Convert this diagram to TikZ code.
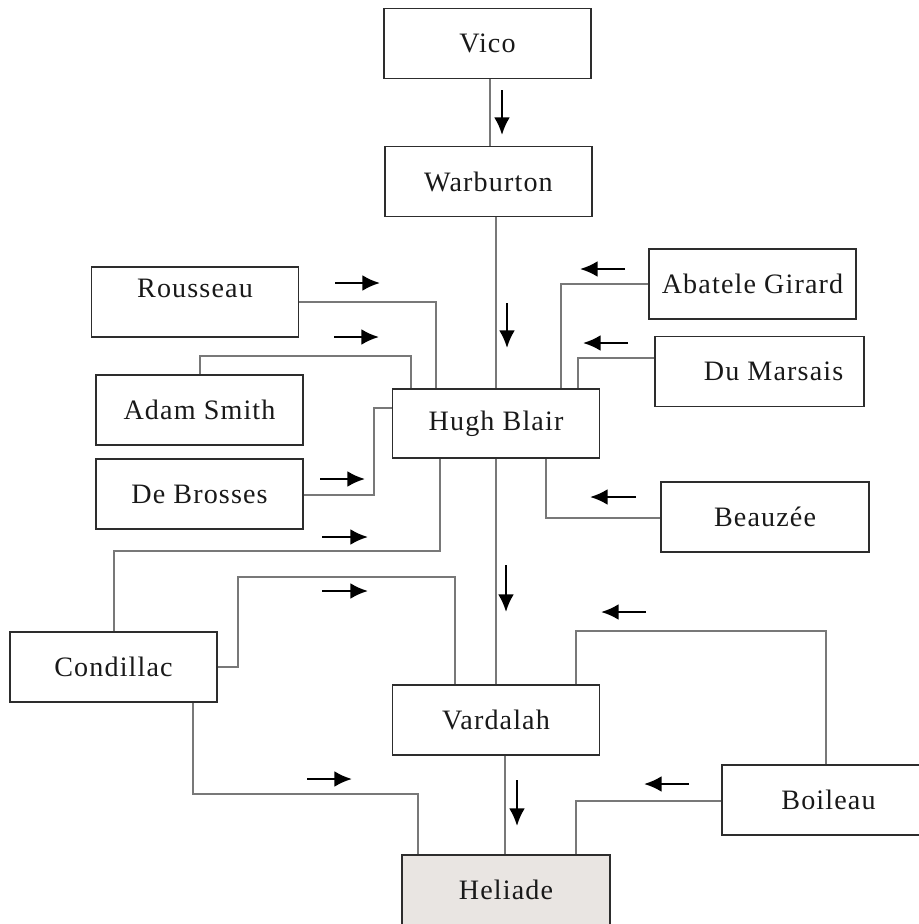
\documentclass[tikz,border=0pt]{standalone}
\usepackage{fontspec}
\setmainfont{Liberation Serif}[LetterSpace=4]
\usetikzlibrary{arrows.meta}

\definecolor{linkgray}{RGB}{120,120,120}
\definecolor{boxgray}{RGB}{45,45,45}
\definecolor{heliadefill}{RGB}{233,229,226}

\tikzset{
  box/.style={draw=boxgray,line width=0.9pt,inner sep=0pt,minimum width=4.14cm,minimum height=1.4cm,
    font=\fontsize{16}{18}\selectfont,text=black!90},
  link/.style={draw=linkgray,line width=0.8pt},
  flow/.style={line width=1.4pt,-{Latex[length=10pt,width=9pt]}}
}

\begin{document}
\begin{tikzpicture}[x=0.02cm,y=-0.02cm]
    \useasboundingbox (0,0) rectangle (919,924);
    \clip (0,0) rectangle (919,924);

    \node[box] at (487.5, 43.5) (vico) {Vico};
    \node[box] at (488.5, 181.5) (warburton) {Warburton};
    \node[box,text depth=16pt] at (195, 302) (rousseau) {Rousseau};
    \node[box] at (752.5, 284) (girard) {Abatele Girard};
    \node[box,minimum width=4.18cm] at (759.5, 371.5) (dumarsais) {\hspace{16pt}Du Marsais};
    \node[box] at (199.5, 410) (adamsmith) {Adam Smith};
    \node[box,minimum height=1.38cm] at (496, 423.5) (blair) {Hugh Blair};
    \node[box] at (199.5, 494) (debrosses) {De Brosses};
    \node[box,minimum width=4.16cm] at (765, 517) (beauzee) {Beauzée};
    \node[box] at (113.5, 667) (condillac) {Condillac\hspace{10pt}};
    \node[box] at (496, 720) (vardalah) {Vardalah};
    \node[box,minimum width=4.26cm] at (828.5, 800) (boileau) {Boileau};
    \node[box,fill=heliadefill,minimum width=4.16cm] at (506, 890) (heliade) {Heliade};

    % main line
    \draw[link] (vico.south -| 490,0) -- (warburton.north -| 490,0);
    \draw[link] (warburton.south -| 496,0) -- (blair.north -| 496,0);
    \draw[link] (blair.south -| 496,0) -- (vardalah.north -| 496,0);
    \draw[link] (vardalah.south -| 505,0) -- (heliade.north -| 505,0);

    % into Hugh Blair
    \draw[link] (rousseau.east |- 0,302) -| (blair.north -| 436,0);
    \draw[link] (adamsmith.north -| 200,0) -- (200,356) -| (blair.north -| 411,0);
    \draw[link] (debrosses.east |- 0,495) -- (374,495) |- (blair.west |- 0,408);
    \draw[link] (condillac.north -| 114,0) |- (440,551) -- (blair.south -| 440,0);
    \draw[link] (girard.west |- 0,284) -| (blair.north -| 561,0);
    \draw[link] (dumarsais.west |- 0,358) -| (blair.north -| 578,0);
    \draw[link] (beauzee.west |- 0,518) -| (blair.south -| 546,0);

    % into Vardalah and Heliade
    \draw[link] (condillac.east |- 0,667) -- (238,667) |- (455,577) -- (vardalah.north -| 455,0);
    \draw[link] (boileau.north -| 826,0) |- (576,631) -- (vardalah.north -| 576,0);
    \draw[link] (condillac.south -| 193,0) |- (418,794) -- (heliade.north -| 418,0);
    \draw[link] (boileau.west |- 0,801) -| (heliade.north -| 576,0);

    % arrows
    \draw[flow] (502,90) -- (502,135);
    \draw[flow] (507,303) -- (507,348);
    \draw[flow] (506,565) -- (506,612);
    \draw[flow] (517,780) -- (517,826);
    \draw[flow] (335,283) -- (380,283);
    \draw[flow] (334,337) -- (379,337);
    \draw[flow] (320,479) -- (365,479);
    \draw[flow] (322,537) -- (368,537);
    \draw[flow] (322,591) -- (368,591);
    \draw[flow] (307,779) -- (352,779);
    \draw[flow] (625,269) -- (580,269);
    \draw[flow] (628,343) -- (583,343);
    \draw[flow] (636,497) -- (590,497);
    \draw[flow] (646,612) -- (601,612);
    \draw[flow] (689,784) -- (644,784);
\end{tikzpicture}
\end{document}
